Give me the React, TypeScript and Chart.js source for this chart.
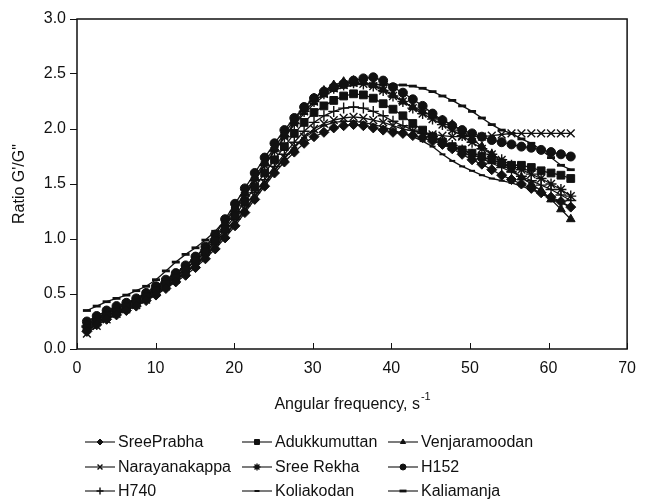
import React, { useEffect, useRef } from "react";
import { Chart, registerables } from "chart.js";
import { drawPoint } from "chart.js/helpers";

Chart.register(...registerables);

// Angular frequency (s^-1)
const frequencies = [
  1.26, 2.51, 3.77, 5.03, 6.28, 7.54, 8.8, 10.05, 11.31, 12.57,
  13.82, 15.08, 16.34, 17.59, 18.85, 20.11, 21.36, 22.62, 23.88, 25.13,
  26.39, 27.65, 28.9, 30.16, 31.42, 32.67, 33.93, 35.19, 36.44, 37.7,
  38.96, 40.21, 41.47, 42.73, 43.98, 45.24, 46.5, 47.75, 49.01, 50.27,
  51.52, 52.78, 54.04, 55.29, 56.55, 57.81, 59.06, 60.32, 61.58, 62.83,
];

const sreePrabha = [
  0.16, 0.22, 0.27, 0.31, 0.35, 0.39, 0.44, 0.49, 0.55, 0.61,
  0.67, 0.74, 0.82, 0.91, 1.01, 1.12, 1.24, 1.36, 1.48, 1.6,
  1.7, 1.79, 1.87, 1.93, 1.97, 2.01, 2.03, 2.04, 2.03, 2.01,
  1.99, 1.97, 1.96, 1.94, 1.92, 1.89, 1.86, 1.82, 1.77, 1.72,
  1.68, 1.63, 1.58, 1.54, 1.5, 1.46, 1.42, 1.38, 1.34, 1.29,
];
const adukkumuttan = [
  0.19, 0.25, 0.3, 0.34, 0.38, 0.42, 0.47, 0.53, 0.59, 0.65,
  0.72, 0.8, 0.88, 0.98, 1.09, 1.21, 1.34, 1.47, 1.6, 1.72,
  1.84, 1.96, 2.06, 2.15, 2.21, 2.26, 2.3, 2.32, 2.31, 2.28,
  2.23, 2.18, 2.12, 2.05, 1.99, 1.93, 1.88, 1.84, 1.81, 1.78,
  1.75, 1.72, 1.69, 1.67, 1.67, 1.65, 1.62, 1.6, 1.58, 1.55,
];
const venjaramoodan = [
  0.22, 0.28, 0.33, 0.37, 0.41, 0.45, 0.5, 0.56, 0.62, 0.68,
  0.75, 0.83, 0.92, 1.02, 1.14, 1.28, 1.42, 1.56, 1.7, 1.83,
  1.96, 2.08, 2.19, 2.28, 2.35, 2.4, 2.43, 2.44, 2.43, 2.4,
  2.36, 2.31, 2.25, 2.2, 2.16, 2.12, 2.08, 2.04, 1.98, 1.91,
  1.84, 1.77, 1.7, 1.63, 1.56, 1.5, 1.44, 1.36, 1.27, 1.18,
];
const narayanakappa = [
  0.14, 0.21, 0.27, 0.32, 0.36, 0.4, 0.45, 0.51, 0.57, 0.63,
  0.7, 0.77, 0.85, 0.94, 1.04, 1.15, 1.27, 1.39, 1.51, 1.63,
  1.74, 1.84, 1.93, 2.0, 2.05, 2.08, 2.1, 2.11, 2.1, 2.08,
  2.06, 2.03, 2.0, 1.98, 1.96, 1.95, 1.94, 1.93, 1.93, 1.93,
  1.93, 1.94, 1.95, 1.96, 1.96, 1.96, 1.96, 1.96, 1.96, 1.96,
];
const sreeRekha = [
  0.2, 0.26, 0.31, 0.35, 0.39, 0.43, 0.48, 0.54, 0.6, 0.66,
  0.73, 0.81, 0.9, 1.0, 1.12, 1.25, 1.39, 1.53, 1.67, 1.8,
  1.93, 2.05, 2.16, 2.25, 2.32, 2.37, 2.4, 2.42, 2.41, 2.39,
  2.35, 2.3, 2.25, 2.19, 2.14, 2.09, 2.04, 1.99, 1.94, 1.88,
  1.82, 1.77, 1.72, 1.67, 1.63, 1.59, 1.55, 1.5, 1.45, 1.39,
];
const h152 = [
  0.25, 0.3, 0.35, 0.39, 0.42, 0.46, 0.51, 0.57, 0.63, 0.69,
  0.76, 0.84, 0.93, 1.04, 1.18, 1.32, 1.46, 1.6, 1.74, 1.87,
  1.99, 2.1, 2.2, 2.28, 2.34, 2.38, 2.41, 2.44, 2.46, 2.47,
  2.44, 2.38, 2.33, 2.27, 2.21, 2.14, 2.08, 2.03, 1.99, 1.96,
  1.93, 1.9, 1.88, 1.86, 1.84, 1.83, 1.81, 1.79, 1.77, 1.75,
];
const h740 = [
  0.21, 0.27, 0.32, 0.36, 0.4, 0.44, 0.49, 0.55, 0.61, 0.67,
  0.73, 0.8, 0.88, 0.97, 1.07, 1.18, 1.3, 1.42, 1.54, 1.66,
  1.77, 1.88, 1.98, 2.06, 2.12, 2.16, 2.19, 2.2, 2.19, 2.16,
  2.12, 2.07, 2.03, 1.99, 1.96, 1.93, 1.89, 1.85, 1.81, 1.77,
  1.73, 1.69, 1.65, 1.61, 1.57, 1.53, 1.49, 1.45, 1.4, 1.35,
];
const koliakodan = [
  0.17, 0.23, 0.28, 0.32, 0.36, 0.4, 0.45, 0.5, 0.56, 0.62,
  0.69, 0.76, 0.84, 0.93, 1.03, 1.14, 1.26, 1.38, 1.5, 1.62,
  1.73, 1.83, 1.92, 1.98, 2.03, 2.06, 2.07, 2.07, 2.06, 2.04,
  2.02, 1.99, 1.96, 1.93, 1.89, 1.84, 1.77, 1.71, 1.66, 1.62,
  1.58, 1.55, 1.53, 1.51, 1.48, 1.45, 1.41, 1.37, 1.33, 1.29,
];
const kaliamanja = [
  0.35, 0.39, 0.43, 0.46, 0.49, 0.53, 0.57, 0.63, 0.71, 0.79,
  0.86, 0.92, 0.99, 1.07, 1.17, 1.28, 1.4, 1.54, 1.67, 1.8,
  1.92, 2.04, 2.14, 2.23, 2.3, 2.35, 2.38, 2.4, 2.41, 2.41,
  2.4, 2.4, 2.4, 2.39, 2.37, 2.34, 2.3, 2.26, 2.21, 2.16,
  2.1, 2.04, 1.99, 1.96, 1.91, 1.87, 1.81, 1.74, 1.67, 1.63,
];

const seriesNames = [
  "SreePrabha", "Adukkumuttan", "Venjaramoodan",
  "Narayanakappa", "Sree Rekha", "H152",
  "H740", "Koliakodan", "Kaliamanja",
];
const seriesValues = [
  sreePrabha, adukkumuttan, venjaramoodan,
  narayanakappa, sreeRekha, h152,
  h740, koliakodan, kaliamanja,
];

const xTickValues = [0, 10, 20, 30, 40, 50, 60, 70];
const yTickValues = [0, 0.5, 1.0, 1.5, 2.0, 2.5, 3.0];
const xTitle = "Angular frequency, s";
const xTitleSup = "-1";
const yTitle = "Ratio G'/G\"";

const FONT = "'Liberation Sans', Arial, sans-serif";
const INK = "#111";

const markerStyles = [
  { pointStyle: "rectRot", radius: 5, borderWidth: 1, legendRadius: 3 },
  { pointStyle: "rect", radius: 5.5, borderWidth: 1, legendRadius: 3.5 },
  { pointStyle: "triangle", radius: 5, borderWidth: 1, legendRadius: 3 },
  { pointStyle: "crossRot", radius: 5.5, borderWidth: 1.4, legendRadius: 3.5 },
  { pointStyle: "star", radius: 5.5, borderWidth: 1.4, legendRadius: 3.5 },
  { pointStyle: "circle", radius: 4.5, borderWidth: 1, legendRadius: 3 },
  { pointStyle: "cross", radius: 5.5, borderWidth: 1.4, legendRadius: 3.5 },
  { pointStyle: "line", radius: 3, borderWidth: 2, legendRadius: 2.5 },
  { pointStyle: "line", radius: 4, borderWidth: 2.8, legendRadius: 3.5 },
];

export default function App() {
  const ref = useRef<HTMLCanvasElement>(null);

  useEffect(() => {
    document.body.style.margin = "0";
    const canvas = ref.current;
    if (!canvas) return;

    const datasets = seriesNames.map((name, i) => ({
      label: name,
      data: frequencies.map((x, j) => ({ x, y: seriesValues[i][j] })),
      borderColor: INK,
      backgroundColor: INK,
      borderWidth: 1.3,
      pointStyle: markerStyles[i].pointStyle as any,
      pointRadius: markerStyles[i].radius,
      pointBorderWidth: markerStyles[i].borderWidth,
      pointBackgroundColor: INK,
      pointBorderColor: INK,
      tension: 0,
      fill: false,
    }));

    const decorations = {
      id: "decorations",
      afterDraw(chart: any) {
        const { ctx, chartArea, scales } = chart;
        ctx.save();
        // frame
        ctx.strokeStyle = INK;
        ctx.lineWidth = 1.5;
        ctx.strokeRect(chartArea.left, chartArea.top, chartArea.right - chartArea.left, chartArea.bottom - chartArea.top);
        // inward x ticks
        ctx.lineWidth = 1;
        for (const v of xTickValues) {
          const px = Math.round(scales.x.getPixelForValue(v)) + 0.5;
          ctx.beginPath();
          ctx.moveTo(px, chartArea.bottom);
          ctx.lineTo(px, chartArea.bottom - 6);
          ctx.stroke();
        }
        // x title with superscript
        ctx.fillStyle = INK;
        ctx.font = `16px ${FONT}`;
        const mainW = ctx.measureText(xTitle).width;
        ctx.font = `11px ${FONT}`;
        const supW = ctx.measureText(xTitleSup).width;
        const cx = (chartArea.left + chartArea.right) / 2;
        const startX = cx - (mainW + supW) / 2;
        ctx.textBaseline = "middle";
        ctx.textAlign = "left";
        ctx.font = `16px ${FONT}`;
        ctx.fillText(xTitle, startX, 405);
        ctx.font = `11px ${FONT}`;
        ctx.fillText(xTitleSup, startX + mainW + 1, 397);
        // y title
        ctx.save();
        ctx.translate(20, (chartArea.top + chartArea.bottom) / 2);
        ctx.rotate(-Math.PI / 2);
        ctx.textAlign = "center";
        ctx.font = `16px ${FONT}`;
        ctx.fillText(yTitle, 0, 0);
        ctx.restore();
        // legend
        const colX = [85, 242, 388];
        const rowY = [442, 467, 491];
        chart.data.datasets.forEach((ds: any, i: number) => {
          const x0 = colX[i % 3];
          const y0 = rowY[Math.floor(i / 3)];
          ctx.strokeStyle = INK;
          ctx.fillStyle = INK;
          ctx.lineWidth = 1.1;
          ctx.beginPath();
          ctx.moveTo(x0, y0);
          ctx.lineTo(x0 + 30, y0);
          ctx.stroke();
          const ms = markerStyles[i];
          ctx.lineWidth = ms.borderWidth;
          drawPoint(ctx, { pointStyle: ms.pointStyle as any, rotation: 0, radius: ms.legendRadius, borderWidth: ms.borderWidth }, x0 + 15, y0);
          ctx.font = `16px ${FONT}`;
          ctx.textAlign = "left";
          ctx.textBaseline = "middle";
          ctx.fillStyle = INK;
          ctx.fillText(ds.label, x0 + 33, y0 + 1);
        });
        ctx.restore();
      },
    };

    const chart = new Chart(canvas, {
      type: "line",
      data: { datasets },
      options: {
        responsive: false,
        animation: false,
        layout: { padding: { top: 19, right: 14, bottom: 0, left: 0 } },
        plugins: {
          legend: { display: false },
          tooltip: { enabled: false },
        },
        font: { family: FONT, size: 16 },
        scales: {
          x: {
            type: "linear",
            min: 0,
            max: 70,
            afterBuildTicks: (scale: any) => {
              scale.ticks = xTickValues.map((v) => ({ value: v }));
            },
            afterFit: (scale: any) => {
              scale.height = 153;
            },
            grid: { display: false, drawTicks: false },
            border: { display: false },
            ticks: {
              color: INK,
              padding: 10,
              font: { family: FONT, size: 16 },
              maxRotation: 0,
            },
          },
          y: {
            type: "linear",
            min: 0,
            max: 3,
            afterBuildTicks: (scale: any) => {
              scale.ticks = yTickValues.map((v) => ({ value: v }));
            },
            afterFit: (scale: any) => {
              scale.width = 77;
            },
            grid: { drawOnChartArea: false, drawTicks: true, tickLength: 7, color: INK },
            border: { display: false },
            ticks: {
              color: INK,
              padding: 4,
              font: { family: FONT, size: 16 },
              callback: (v: any) => Number(v).toFixed(1),
            },
          },
        },
      } as any,
      plugins: [decorations],
    });

    return () => chart.destroy();
  }, []);

  return <canvas ref={ref} width={646} height={502} style={{ display: "block" }} />;
}
